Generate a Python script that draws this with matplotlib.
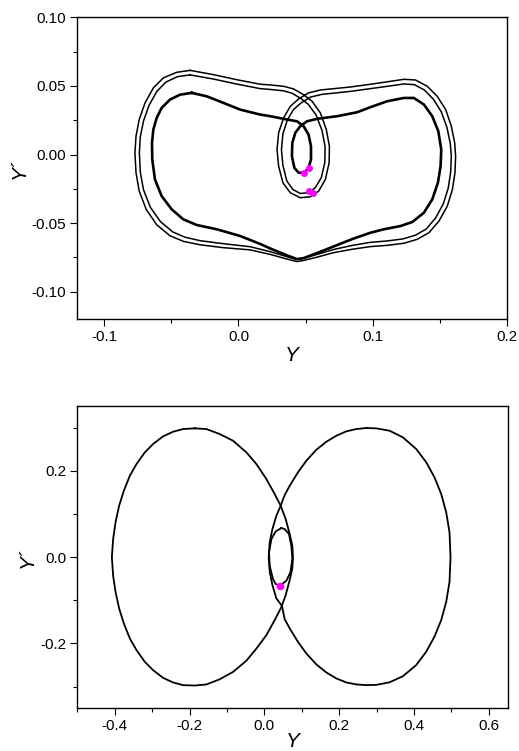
import matplotlib
matplotlib.use("Agg")
import matplotlib.pyplot as plt
from matplotlib.ticker import MultipleLocator, FormatStrFormatter

plt.rcParams['font.family'] = ['Liberation Sans', 'DejaVu Sans']
plt.rcParams['axes.unicode_minus'] = False

# ---- top panel: two outer turns (double line) + inner turn (thick) ----
outer_a_y = [-0.036, -0.0187, -0.0012, 0.0162, 0.0237, 0.0336, 0.041, 0.0485, 0.0548, 0.061,
             0.0654, 0.0677, 0.0675, 0.0647, 0.0597, 0.0535, 0.046, 0.0386, 0.0331, 0.0299,
             0.0287, 0.0299, 0.0336, 0.0386, 0.0448, 0.0522, 0.061, 0.0834, 0.0983, 0.1131,
             0.1232, 0.1318, 0.1406, 0.148, 0.1543, 0.1585, 0.161, 0.1617, 0.1612, 0.1593,
             0.1555, 0.1493, 0.1418, 0.1331, 0.1231, 0.1107, 0.0983, 0.085, 0.0709, 0.0585,
             0.0485, 0.0436, 0.0361, 0.0237, 0.0087, -0.0112, -0.0286, -0.041, -0.051, -0.0609,
             -0.0687, -0.0739, -0.0763, -0.0771, -0.0763, -0.0739, -0.0696, -0.0634, -0.056, -0.046,
             -0.036]
outer_a_dy = [0.0613, 0.0582, 0.0545, 0.0512, 0.0507, 0.0497, 0.0478, 0.0436, 0.0388, 0.0303,
              0.0182, 0.006, -0.006, -0.0182, -0.0267, -0.0308, -0.0315, -0.0279, -0.0206, -0.0085,
              0.0036, 0.0158, 0.0267, 0.0351, 0.0405, 0.0449, 0.047, 0.0492, 0.0512, 0.0533,
              0.0548, 0.0543, 0.0497, 0.0424, 0.0327, 0.0206, 0.0085, -0.0012, -0.0133, -0.0255,
              -0.0376, -0.0485, -0.057, -0.0618, -0.0647, -0.0662, -0.0671, -0.069, -0.0715, -0.0748,
              -0.0772, -0.078, -0.0762, -0.0728, -0.0695, -0.0679, -0.0658, -0.0633, -0.0592, -0.0512,
              -0.040, -0.0267, -0.0133, 0.0012, 0.0133, 0.0255, 0.0376, 0.0485, 0.0558, 0.0599,
              0.0613]

outer_b_y = [-0.036, -0.0187, -0.0012, 0.0162, 0.0237, 0.0336, 0.040, 0.0465, 0.052, 0.0578,
             0.0622, 0.0645, 0.0643, 0.0617, 0.0572, 0.0522, 0.046, 0.0405, 0.036, 0.0331,
             0.032, 0.0331, 0.0364, 0.041, 0.0468, 0.0535, 0.062, 0.0834, 0.0983, 0.1131,
             0.1232, 0.131, 0.1384, 0.1452, 0.151, 0.1552, 0.1577, 0.1585, 0.158, 0.1562,
             0.1525, 0.1468, 0.1398, 0.1318, 0.1225, 0.1107, 0.0983, 0.085, 0.0709, 0.0585,
             0.0485, 0.043, 0.0361, 0.0237, 0.0087, -0.0112, -0.0286, -0.040, -0.049, -0.0582,
             -0.0656, -0.0707, -0.0731, -0.0738, -0.0731, -0.0707, -0.0666, -0.0608, -0.054, -0.0455,
             -0.036]
outer_b_dy = [0.058, 0.055, 0.0513, 0.048, 0.0474, 0.0464, 0.0446, 0.0408, 0.0365, 0.0288,
              0.0175, 0.0058, -0.0058, -0.0168, -0.0242, -0.0278, -0.0284, -0.0255, -0.0193, -0.008,
              0.0036, 0.0152, 0.0252, 0.0328, 0.0377, 0.0418, 0.0438, 0.046, 0.048, 0.050,
              0.0514, 0.0509, 0.047, 0.0402, 0.0312, 0.0198, 0.0082, -0.0012, -0.0128, -0.0245,
              -0.036, -0.0462, -0.0543, -0.0588, -0.0615, -0.063, -0.064, -0.0662, -0.0692, -0.0728,
              -0.0756, -0.0764, -0.0745, -0.0708, -0.0672, -0.065, -0.0628, -0.0602, -0.0564, -0.0488,
              -0.0385, -0.0258, -0.013, 0.0012, 0.013, 0.0245, 0.0358, 0.046, 0.0528, 0.0567,
              0.058]

inner_y = [-0.0348, -0.0236, -0.0112, 0.0013, 0.0162, 0.0237, 0.0361, 0.0436, 0.0485, 0.0522,
           0.054, 0.054, 0.0522, 0.049, 0.0448, 0.0416, 0.0398, 0.0401, 0.0423, 0.046,
           0.051, 0.0585, 0.0734, 0.0884, 0.0983, 0.1107, 0.1231, 0.1306, 0.1381, 0.1443,
           0.1488, 0.151, 0.1505, 0.1485, 0.1443, 0.1381, 0.1294, 0.1207, 0.1082, 0.0983,
           0.085, 0.0709, 0.0585, 0.0485, 0.0436, 0.0361, 0.0237, 0.0162, 0.0013, -0.0161,
           -0.031, -0.041, -0.0497, -0.0572, -0.0622, -0.0642, -0.0644, -0.0634, -0.0609, -0.0572,
           -0.051, -0.0435, -0.0348]
inner_dy = [0.0449, 0.0424, 0.0376, 0.0327, 0.0291, 0.0279, 0.0255, 0.0242, 0.0206, 0.0145,
            0.006, -0.0036, -0.0097, -0.0133, -0.0133, -0.0097, -0.0012, 0.0085, 0.0158, 0.0206,
            0.0242, 0.026, 0.0279, 0.0308, 0.0345, 0.0388, 0.0412, 0.0412, 0.0364, 0.0279,
            0.017, 0.0036, -0.0085, -0.0206, -0.0327, -0.0424, -0.0492, -0.0521, -0.0545, -0.057,
            -0.0615, -0.067, -0.0718, -0.0755, -0.0762, -0.0735, -0.0685, -0.0652, -0.0594, -0.0545,
            -0.0514, -0.0473, -0.040, -0.0303, -0.0182, -0.0036, 0.0085, 0.0182, 0.0267, 0.034,
            0.040, 0.0436, 0.0449]

dots_top_y = [0.0522, 0.0489, 0.0522, 0.0555]
dots_top_dy = [-0.0097, -0.0133, -0.0267, -0.0284]

# ---- bottom panel: two large lobes + small inner loop ----
left_y = [-0.1861, -0.2173, -0.2441, -0.2708, -0.2975, -0.3196, -0.3418, -0.3597, -0.3757, -0.3883,
          -0.3979, -0.4043, -0.4077, -0.4043, -0.3979, -0.3883, -0.3757, -0.3597, -0.3418, -0.3196,
          -0.2975, -0.2708, -0.2441, -0.2173, -0.1861, -0.1549, -0.1194, -0.0838, -0.0481, -0.0214,
          0.0053, 0.0275, 0.0453, 0.0569, 0.0676, 0.0747, 0.0764, 0.0747, 0.0676, 0.0569,
          0.0435, 0.0275, 0.0053, -0.0214, -0.0481, -0.0838, -0.1194, -0.1549, -0.1861]
left_dy = [0.2982, 0.2966, 0.2904, 0.2797, 0.2619, 0.2426, 0.2155, 0.1884, 0.1537, 0.1189,
           0.0804, 0.0417, 0.0, -0.0433, -0.0804, -0.1189, -0.1537, -0.1884, -0.2155, -0.2426,
           -0.2619, -0.2797, -0.2904, -0.2966, -0.2975, -0.2950, -0.2830, -0.2660, -0.2400, -0.2120,
           -0.1808, -0.146, -0.116, -0.0881, -0.0533, -0.0262, 0.0, 0.0262, 0.0533, 0.0881,
           0.119, 0.146, 0.1808, 0.2155, 0.2426, 0.2695, 0.285, 0.2966, 0.2982]

right_y = [0.2724, 0.2457, 0.219, 0.1923, 0.1656, 0.1389, 0.1121, 0.0897, 0.0676, 0.0542,
           0.0435, 0.032, 0.0214, 0.0142, 0.0115, 0.0142, 0.0214, 0.032, 0.047, 0.0542,
           0.0676, 0.0897, 0.1121, 0.1389, 0.1656, 0.1923, 0.219, 0.2457, 0.2724, 0.299,
           0.3346, 0.3701, 0.4059, 0.4326, 0.4547, 0.4726, 0.486, 0.4948, 0.4975, 0.4948,
           0.486, 0.4726, 0.4547, 0.4326, 0.4059, 0.3701, 0.3346, 0.299, 0.2724]
right_dy = [0.2990, 0.2966, 0.2913, 0.2811, 0.2672, 0.2487, 0.2232, 0.1963, 0.1652, 0.1437,
            0.119, 0.0957, 0.0649, 0.034, 0.0, -0.034, -0.0649, -0.0957, -0.113, -0.1437,
            -0.1652, -0.1963, -0.2232, -0.2487, -0.2672, -0.2811, -0.2904, -0.2950, -0.2966, -0.2960,
            -0.2900, -0.2760, -0.2500, -0.2190, -0.1840, -0.1460, -0.1036, -0.0572, 0.0, 0.0572,
            0.1036, 0.146, 0.1847, 0.2195, 0.2503, 0.2774, 0.2927, 0.2982, 0.2990]

small_y = [0.0454, 0.0542, 0.0657, 0.072, 0.0747, 0.0694, 0.0587, 0.0409, 0.030, 0.023,
           0.0142, 0.0124, 0.0187, 0.0302, 0.0454]
small_dy = [0.0672, 0.0649, 0.0533, 0.0262, -0.0046, -0.0355, -0.0549, -0.0665, -0.062, -0.051,
            -0.0201, 0.011, 0.0417, 0.0595, 0.0672]

dot_bot_y = [0.0409]
dot_bot_dy = [-0.0665]

fig = plt.figure(figsize=(5.19, 7.51), dpi=100)
ax1 = fig.add_axes([0.149, 0.575, 0.828, 0.402])
ax2 = fig.add_axes([0.149, 0.057, 0.829, 0.4024])

ax1.plot(outer_a_y, outer_a_dy, color='black', lw=1.1)
ax1.plot(outer_b_y, outer_b_dy, color='black', lw=1.1)
ax1.plot(inner_y, inner_dy, color='black', lw=1.9)
ax1.plot(dots_top_y, dots_top_dy, 'o', color='magenta', ms=5, mec='none')

ax2.plot(left_y, left_dy, color='black', lw=1.3)
ax2.plot(right_y, right_dy, color='black', lw=1.3)
ax2.plot(small_y, small_dy, color='black', lw=1.3)
ax2.plot(dot_bot_y, dot_bot_dy, 'o', color='magenta', ms=5.5, mec='none')

ax1.set_xlim(-0.12, 0.2)
ax1.set_ylim(-0.12, 0.10)
ax1.xaxis.set_major_locator(MultipleLocator(0.1))
ax1.xaxis.set_minor_locator(MultipleLocator(0.05))
ax1.yaxis.set_major_locator(MultipleLocator(0.05))
ax1.yaxis.set_minor_locator(MultipleLocator(0.025))
ax1.xaxis.set_major_formatter(FormatStrFormatter('%.1f'))
ax1.yaxis.set_major_formatter(FormatStrFormatter('%.2f'))

ax2.set_xlim(-0.5, 0.65)
ax2.set_ylim(-0.35, 0.35)
ax2.xaxis.set_major_locator(MultipleLocator(0.2))
ax2.xaxis.set_minor_locator(MultipleLocator(0.1))
ax2.yaxis.set_major_locator(MultipleLocator(0.2))
ax2.yaxis.set_minor_locator(MultipleLocator(0.1))
ax2.xaxis.set_major_formatter(FormatStrFormatter('%.1f'))
ax2.yaxis.set_major_formatter(FormatStrFormatter('%.1f'))

for ax in (ax1, ax2):
    ax.tick_params(which='major', direction='out', length=5, width=0.8, labelsize=11, pad=3)
    ax.tick_params(which='minor', direction='out', length=3, width=0.8)
    for s in ax.spines.values():
        s.set_linewidth(1.0)
    ax.set_ylabel('Y´', fontsize=15, style='italic', labelpad=2)

ax1.set_xlabel('Y', fontsize=15, style='italic', labelpad=1)
ax2.set_xlabel('Y', fontsize=15, style='italic', labelpad=-1)

fig.savefig('out.png', dpi=100)
